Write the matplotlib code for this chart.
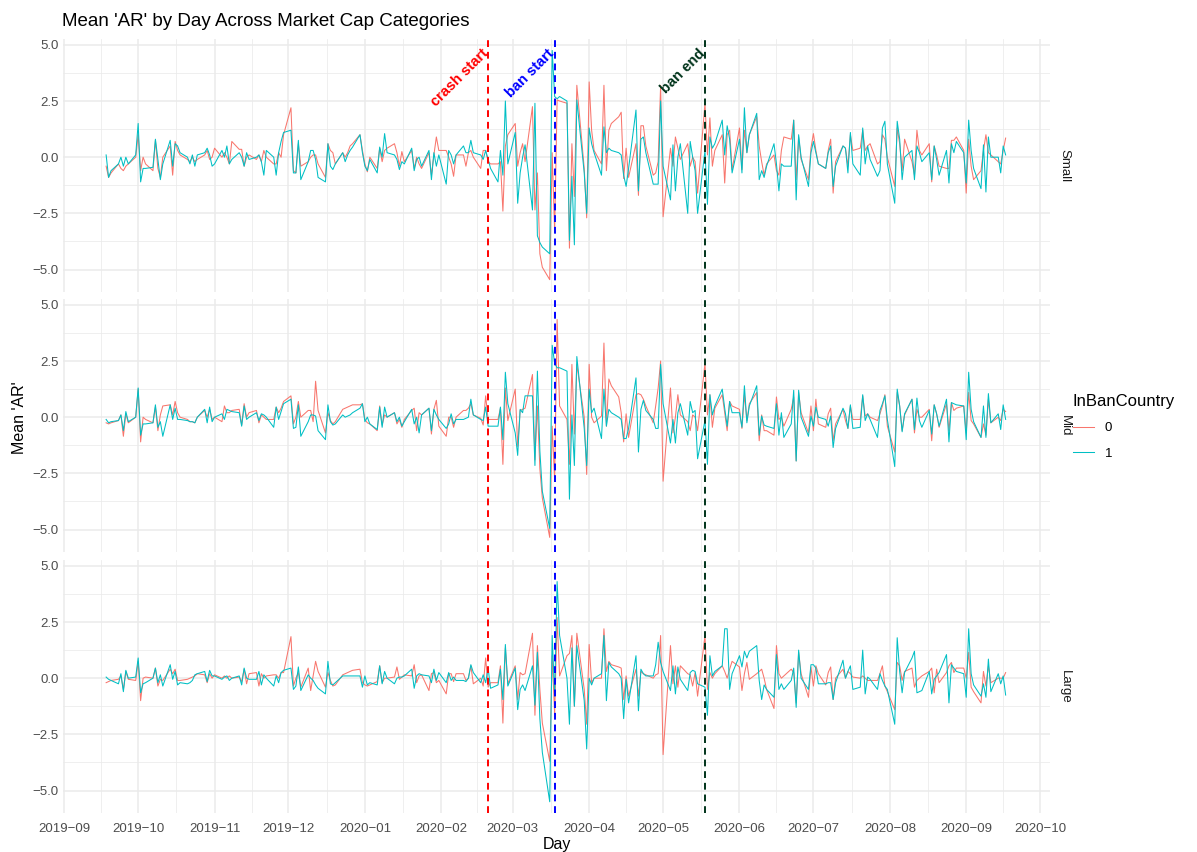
import numpy as np
import pandas as pd
import matplotlib
matplotlib.use("Agg")
import matplotlib.pyplot as plt
from matplotlib.lines import Line2D

plt.rcParams['font.family'] = ['Liberation Sans', 'DejaVu Sans']

# trading days shown on the x axis
days = pd.bdate_range("2019-09-18", "2020-09-17")

# mean AR, Small caps (0 = not in ban country, 1 = in ban country), one row per month
small_0 = [-0.4, -0.9, -0.7, -0.3, -0.5, -0.6, -0.4, -0.3, 0.0,
           1.0, -0.6, 0.0, -0.3, -0.6, 0.75, -0.5, -0.9, 0.0, 0.5, -0.8, 0.7, 0.3, 0.1, -0.1, -0.2, 0.0, -0.2, -0.1, 0.1, 0.3, -0.1, 0.0,
           0.4, 0.0, 0.2, 0.0, -0.3, 0.7, 0.35, 0.35, -0.4, 0.0, 0.1, -0.1, 0.1, -0.2, 0.3, 0.0, -0.3, -0.3, 0.2, 0.0, 1.0,
           2.2, -0.6, -0.7, 0.6, -0.4, -0.2, 0.0, 0.1, 0.1, -0.3, -0.9, 0.6, 0.3, 0.2, -0.3, 0.2, 0.0, 0.2, 0.5, 0.6, 1.0, 0.3,
           -0.3, -0.65, 0.0, -0.5, 0.4, -0.2, 0.3, 0.4, 0.6, 0.2, -0.4, 0.25, -0.2, 0.3, -0.5, 0.0, -0.3, -0.5, 0.2, -0.8, 0.1, 0.9, 0.3,
           0.3, 0.0, -0.3, -0.85, 0.1, 0.1, -0.4, 0.2, 0.3, 0.0, -0.5, 0.3, 0.3, -0.2, -0.3, -0.3, -0.2, -2.4, 0.5, 1.0,
           1.5, -0.4, 0.2, 0.6, -0.2, 2.25, -2.35, -0.7, -4.3, -4.9, -5.45, 0.2, -3.3, 2.55, 2.5, 2.4, -4.05, 0.6, -1.75, 3.2, -0.5, -2.7,
           3.35, 1.2, 0.3, -0.3, 3.2, -0.6, 1.2, 1.5, 1.8, 2.0, -0.95, 0.4, -0.9, 0.6, -1.7, 1.4, 1.4, 0.5, -0.8, -0.7, -0.2, 3.2,
           -2.65, 0.4, -0.4, 0.9, 0.4, -0.1, 0.6, -0.4, 0.0, -0.2, -1.6, 2.4, 0.1, 1.75, -0.4, 0.3, 1.0, -1.15, 1.0, 1.2, -0.55,
           1.3, -0.55, 1.2, 0.2, 1.0, 1.8, 0.5, -0.2, -0.8, -0.3, 0.1, -0.6, -0.8, 0.3, 0.9, 0.8, 1.65, -1.0, 0.9, -0.1, -1.0, 0.4,
           1.05, 0.3, -0.3, -0.5, 0.3, 0.8, -1.6, -0.2, 0.5, 0.4, -0.4, 1.0, 0.3, 0.4, 1.2, 0.3, 0.5, 0.6, -0.3, -0.2, 1.0, 0.8, 0.0,
           -1.3, 1.3, 0.6, -0.6, 0.8, -0.2, -0.8, 1.2, 0.3, 0.1, 0.6, -1.1, 0.5, 0.1, -0.4, -0.5, -0.5, 0.75, 0.75, 0.9, 0.3,
           -1.6, 0.8, -0.4, -1.0, -0.6, 0.3, 1.0, 0.2, 0.1, -0.2, -0.3, 0.3, 0.85]
small_1 = [0.1, -0.9, -0.6, -0.3, 0.0, -0.4, 0.0, -0.3, 0.1,
           1.5, -1.1, -0.5, -0.5, -0.45, 0.8, -0.1, -1.0, -0.3, 0.75, -0.4, 0.6, 0.5, 0.2, 0.0, -0.3, 0.1, -0.4, 0.1, 0.2, 0.4, 0.1, -0.4,
           -0.3, 0.3, 0.0, 0.5, -0.3, -0.1, 0.2, 0.0, -0.4, 0.2, -0.1, 0.0, 0.1, -0.2, -0.8, 0.3, 0.0, -0.8, 0.2, 0.7, 1.1,
           1.2, -0.7, -0.7, 0.75, -1.0, -0.2, 0.3, 0.3, -0.1, -0.9, -1.1, 0.6, -0.4, -0.55, -0.3, 0.2, -0.2, 0.1, 0.3, 0.45, 1.0, 0.2,
           -0.4, -0.6, -0.1, -0.7, 0.45, 0.0, 1.05, 0.2, 0.1, -0.1, -0.55, -0.2, -0.3, 0.4, -0.6, -0.1, 0.0, -0.4, 0.3, -1.0, 0.2, -0.4, 0.1,
           -1.2, 0.3, 0.1, -0.3, 0.1, 0.5, 0.2, 0.2, 0.75, 0.2, 0.1, -0.1, 0.3, -0.1, -0.5, -1.1, 0.3, -0.8, 2.5, -0.3,
           1.1, -2.05, -0.7, 0.0, 0.55, -2.35, 2.4, -3.5, -3.8, -4.0, -4.3, 4.75, 2.7, 2.6, 2.7, 2.5, -3.7, -0.85, -3.9, 2.55, -0.7, -2.5,
           1.3, 0.6, 0.2, -0.8, 1.35, 0.2, 0.4, 0.3, 0.2, 0.1, -0.8, -1.3, -0.5, 2.1, -1.5, 0.8, 0.9, 0.2, -1.2, -1.2, -1.2, 2.5,
           -0.4, -1.9, 0.55, -1.5, 0.0, 0.6, -2.5, 0.7, 0.0, -0.6, -2.5, 0.3, -2.1, 0.9, 0.4, 0.6, 1.65, 0.1, 1.4, 0.8, -0.7,
           0.8, -0.7, 2.2, 0.2, 1.0, 1.95, -1.0, -0.6, -0.9, -0.4, 0.6, -0.3, -1.5, -0.3, -0.4, -0.4, 1.65, -1.9, 1.0, 0.0, -1.3, 0.2,
           0.7, 0.2, -0.3, -0.5, 0.2, 0.5, -1.3, -0.4, 0.5, 0.4, -0.7, 1.1, -0.3, -0.8, 1.3, -0.3, 0.5, -0.1, -0.85, -0.6, 1.3, 1.6, -0.3,
           -2.05, 1.6, 0.8, -1.0, 0.0, 0.3, -1.0, 0.5, 0.2, -0.2, 0.2, -1.0, 0.5, -0.1, -0.8, 0.3, -1.15, 0.6, 0.2, 0.7, 0.2,
           -1.15, 1.65, 0.3, -0.5, -1.4, 0.55, -1.55, 0.9, 0.0, 0.0, -0.7, 0.5, 0.1]

# Mid caps
mid_0 = [-0.25, -0.3, -0.25, -0.15, 0.1, -0.85, 0.15, -0.25, 0.0,
         1.25, -1.1, 0.0, -0.1, -0.25, 0.45, -0.6, 0.1, 0.5, 0.55, 0.1, 0.7, 0.2, 0.0, -0.1, -0.2, -0.2, -0.25, 0.0, 0.3, 0.0, 0.35, -0.1,
         0.0, -0.2, 0.5, 0.2, 0.2, 0.3, 0.35, -0.35, 0.6, 0.0, 0.2, 0.3, -0.25, 0.1, 0.0, -0.1, -0.1, 0.45, 0.2, 0.4, 0.7,
         0.95, -0.3, 0.0, 0.7, 0.0, 0.3, 0.3, -0.2, 1.6, 0.3, -0.7, 0.2, -0.15, -0.3, -0.2, 0.35, 0.4, 0.45, 0.5, 0.55, 0.55, 0.6,
         -0.1, -0.25, -0.3, -0.6, 0.5, -0.35, 0.1, 0.0, 0.2, -0.3, -0.1, -0.45, -0.1, 0.3, 0.4, -0.6, 0.2, 0.1, 0.4, -0.75, 0.35, 0.75, -0.4,
         -0.85, 0.0, 0.0, -0.45, 0.0, 0.3, 0.3, 0.4, 0.6, 0.1, -0.05, -0.35, 0.95, -0.1, -0.1, -0.1, 0.4, -2.1, 1.3, -0.15,
         1.25, -1.3, 0.3, 0.35, 0.4, 1.9, -1.9, 0.5, -2.3, -3.6, -5.35, -0.4, -2.8, 4.35, 0.5, -0.1, -2.1, 2.35, -0.75, 2.35, 0.0, -2.55,
         2.35, 0.0, -0.25, 0.05, 3.3, -0.4, 1.7, 1.4, 0.9, 0.2, -1.1, 0.15, -0.9, 1.0, 1.05, 1.0, 0.8, 0.5, -0.25, 0.5, 1.3, 2.5,
         -2.85, 1.3, -0.7, 0.0, 1.0, 0.1, -0.2, -0.6, 0.1, 0.0, -0.6, 2.4, 0.1, 1.0, -0.45, 0.4, 1.0, 0.2, -0.6, 0.7, 0.5,
         0.35, -0.5, 1.0, -0.15, 0.6, 1.1, -1.05, 0.1, -0.6, -0.6, -0.8, 0.9, -0.1, 0.0, -0.4, 0.35, 0.9, -1.95, 1.1, 0.2, -0.7, 0.5,
         -0.6, 0.8, -0.3, -0.45, 0.15, 0.4, -1.05, -0.3, 0.35, -0.15, -0.5, 0.5, -0.1, -0.1, 0.95, 0.05, 0.15, 0.0, -0.15, 0.15, 0.5, 1.0, -0.4,
         -1.55, 1.1, 0.5, -0.6, 0.1, 0.8, -0.7, 0.35, 0.0, 0.0, 0.35, -1.05, 0.55, 0.15, -0.45, 0.6, -0.6, 0.65, 0.3, 0.4, 0.5,
         -0.7, 1.1, -0.15, -0.3, -0.9, -0.3, -0.8, 0.8, -0.25, 0.0, -0.15, 0.35, 0.25]
mid_1 = [-0.1, -0.25, -0.2, -0.15, 0.1, -0.6, 0.25, -0.2, 0.0,
         1.3, -0.8, -0.3, -0.3, -0.25, 0.55, -0.45, -0.2, -0.85, 0.55, -0.1, 0.4, -0.1, -0.1, -0.15, -0.2, -0.2, -0.25, 0.0, 0.35, -0.25, 0.45, -0.2,
         0.0, 0.15, -0.1, 0.35, 0.3, 0.25, 0.2, -0.4, 0.5, -0.1, 0.0, 0.2, -0.15, 0.15, 0.1, 0.0, -0.45, 0.45, -0.1, 0.25, 0.6,
         0.8, -0.5, -0.45, 0.55, -0.85, -0.2, 0.1, 0.1, 0.05, -0.6, -1.0, 0.55, -0.2, -0.35, -0.3, 0.1, 0.0, 0.05, 0.1, 0.2, 0.4, 0.6,
         -0.2, 0.0, -0.3, -0.55, 0.45, -0.45, 0.45, 0.0, 0.2, -0.2, 0.0, -0.4, -0.2, 0.35, -0.3, 0.0, -0.7, 0.1, 0.4, -0.6, 0.35, 0.1, -0.1,
         -0.5, -0.3, 0.15, -0.3, -0.1, -0.1, -0.05, 0.0, 0.8, 0.1, -0.1, -0.15, 0.45, -0.4, -0.4, -0.4, 0.45, -1.0, 2.0, 0.6,
         -0.7, -1.7, 0.35, 0.2, 0.95, 0.95, -2.15, 2.05, -1.5, -3.3, -4.95, 3.2, 2.4, 2.2, 2.2, 2.05, -3.65, 0.1, -2.15, 2.7, -0.5, -2.15,
         1.25, 0.2, 0.4, -0.95, 1.25, -0.4, 0.35, 0.2, 0.0, -0.1, -0.95, -0.95, -0.5, 1.75, -1.55, 0.35, 0.75, 0.3, -0.1, -0.5, -0.5, 2.35,
         0.6, -1.15, -0.1, -1.15, 0.2, 0.6, -0.8, 0.7, 0.2, 0.3, -1.85, -0.15, -2.1, 1.0, 0.1, 0.5, 1.25, 0.4, -0.4, 0.7, 0.2,
         0.2, -0.45, 1.4, -0.25, 0.5, 1.4, -0.8, 0.05, -0.35, -0.4, -0.5, 0.6, -0.8, 0.2, -0.9, -0.3, 1.2, -1.95, 1.2, 0.0, -0.85, 0.05,
         -0.4, 0.45, 0.0, -0.1, -0.4, 0.05, -1.35, -0.5, 0.4, 0.15, -0.5, 0.55, -0.5, -0.45, 1.0, -0.15, 0.15, -0.1, -0.9, 0.3, 0.6, 0.95, -0.1,
         -2.2, 1.25, 0.5, -0.65, 0.15, 0.8, -0.55, 0.85, -0.15, -0.45, 0.3, -0.75, 0.55, 0.15, -0.4, 0.8, -1.1, 0.65, 0.6, 0.55, 0.5,
         -1.0, 2.0, 0.35, -0.2, -0.9, 0.5, -0.9, 1.05, -0.25, 0.15, -0.55, 0.55, -0.1]

# Large caps
large_0 = [-0.2, -0.15, -0.1, -0.05, 0.1, -0.5, 0.3, -0.05, -0.1,
           0.75, -1.0, 0.0, 0.05, 0.0, 0.45, -0.35, -0.05, -0.1, 0.4, 0.2, 0.4, -0.1, -0.1, -0.05, 0.0, 0.05, 0.1, 0.2, 0.15, -0.2, 0.2, 0.0,
           0.15, 0.0, 0.1, 0.0, 0.1, 0.0, 0.05, -0.15, 0.4, -0.25, 0.2, 0.25, -0.35, 0.2, 0.0, 0.1, 0.15, 0.15, 0.0, 0.25, 0.25,
           1.85, -0.35, 0.0, 0.25, -0.4, 0.45, -0.55, 0.1, 0.75, 0.3, -0.4, 0.25, -0.1, -0.35, -0.3, 0.15, 0.2, 0.25, 0.3, 0.35, 0.4, -0.2,
           -0.3, -0.35, -0.3, -0.15, 0.55, -0.2, 0.0, 0.0, 0.05, 0.5, -0.05, 0.05, 0.15, 0.1, 0.6, -0.2, 0.1, 0.15, -0.55, 0.2, 0.25, -0.2, -0.1,
           -0.7, 0.2, 0.2, -0.15, 0.2, 0.2, -0.1, 0.0, 0.55, -0.25, 0.0, -0.35, 0.9, -0.4, -0.2, -0.2, 0.55, -2.0, 1.35, -0.25,
           0.55, -0.95, 0.25, 0.15, 0.2, 2.0, -1.65, 1.45, -0.5, -2.0, -3.7, 1.0, -1.6, 2.7, 0.1, 1.0, 1.1, 1.9, -1.25, 2.0, -0.5, -2.05,
           1.5, -0.2, 0.0, 0.0, 2.2, 0.3, 0.75, 0.6, 0.5, 0.45, -0.95, 0.1, -0.8, 0.4, -0.8, 0.3, 0.2, 0.15, 0.0, 0.15, 0.2, 1.9,
           -3.4, 1.45, -0.25, 0.55, -0.4, 0.55, 0.2, 0.15, -0.35, 0.25, -0.8, 1.9, -0.5, 0.25, 0.0, 0.2, 0.55, 0.3, 0.0, 0.4, 0.75,
           0.5, -0.55, 0.2, 0.7, -0.05, 0.2, 0.3, 0.4, 0.0, -0.5, -1.35, 1.45, 0.2, 0.0, 0.1, 0.4, 0.25, -1.1, 1.15, 0.2, -0.85, 0.5,
           -0.35, 0.55, 0.2, -0.3, 0.25, 0.5, -0.95, 0.0, 0.4, 0.0, 0.3, 0.2, 0.05, 0.0, 0.1, 0.0, -0.1, -0.1, -0.1, 0.2, 0.55, -0.35, -0.6,
           -1.4, 0.7, 0.55, -0.1, 0.3, 0.45, -0.4, -0.1, 0.0, 0.1, 0.3, 0.45, -0.65, 0.4, -0.2, 0.25, 0.55, 0.7, 0.25, 0.45, 0.45,
           0.0, 1.15, -0.4, -0.6, -1.1, 0.3, -0.35, 0.55, -0.2, 0.0, 0.0, 0.0, 0.25]
large_1 = [0.05, -0.05, -0.1, -0.25, 0.2, -0.6, 0.35, 0.0, 0.05,
           0.9, -0.65, -0.25, -0.2, 0.0, 0.45, -0.2, 0.15, -0.35, 0.6, -0.05, 0.3, -0.3, -0.2, -0.25, -0.2, -0.1, 0.15, 0.2, 0.3, -0.15, 0.35, 0.1,
           0.1, -0.05, 0.05, 0.1, -0.1, 0.0, 0.1, -0.3, 0.45, 0.0, -0.05, -0.05, 0.3, -0.3, 0.15, 0.0, -0.35, 0.1, -0.2, 0.25, 0.35,
           0.45, -0.5, -0.35, 0.5, -0.55, 0.15, 0.0, -0.1, -0.3, -0.45, -0.7, 0.75, -0.25, -0.3, -0.2, 0.1, 0.1, 0.1, 0.1, 0.1, 0.1, -0.4,
           0.1, -0.3, -0.2, -0.3, 0.55, -0.25, 0.3, 0.0, -0.25, 0.0, 0.05, 0.05, 0.1, 0.4, -0.45, 0.1, 0.2, 0.15, 0.1, -0.2, 0.4, -0.1, 0.25,
           -0.2, 0.25, -0.1, 0.05, -0.1, -0.1, -0.15, 0.0, 0.6, 0.25, -0.2, 0.15, -0.2, 0.45, -0.45, -0.3, 0.4, -0.95, 1.5, -0.35,
           0.45, -1.4, -0.5, -0.3, -0.55, 0.55, -1.2, 1.15, -1.8, -3.3, -5.5, 1.9, -0.8, 4.3, 1.9, 0.0, -2.05, 1.35, -1.25, 1.45, -1.0, -3.15,
           0.0, -0.3, 0.0, 0.2, 1.9, -1.0, 0.7, 0.5, 0.2, 0.0, -1.8, -0.05, -1.1, 1.0, -1.45, 0.4, 0.2, 0.1, 0.1, 0.6, 1.6, 0.7,
           0.3, -0.55, 0.55, -0.7, 0.5, -0.05, -0.55, 0.25, 0.35, 0.3, -0.25, -0.4, -1.65, 1.0, 0.1, 0.3, 0.55, 2.2, 2.2, -0.5, 0.2,
           1.0, 0.5, 1.2, 0.9, 1.2, 1.45, -0.1, -0.95, -0.3, -0.5, -0.85, 1.05, -0.5, -0.25, -0.5, -0.1, 0.45, -1.3, 1.25, 0.0, -0.5, 0.6,
           0.6, 0.45, -0.25, -0.25, -0.2, -0.2, -0.95, -0.2, 0.8, 0.0, 0.3, 0.55, -0.5, -0.4, 1.25, -0.7, 0.05, -0.05, -0.5, 0.2, -0.1, -0.35, -0.5,
           -2.05, 1.8, 0.3, -0.65, 0.25, 0.9, 1.2, -0.65, -0.6, -0.55, 0.3, -0.7, -0.05, 0.1, 0.25, 1.05, -1.1, 0.6, 0.45, 0.3, 0.2,
           -0.85, 2.2, 0.2, -0.3, -0.8, -0.25, -0.85, 0.85, -0.6, 0.2, -0.25, 0.1, -0.75]

panels = ["Small", "Mid", "Large"]
series = {"Small": (small_0, small_1), "Mid": (mid_0, mid_1), "Large": (large_0, large_1)}

event_names = ["crash start", "ban start", "ban end"]
event_days = pd.to_datetime(["2020-02-20", "2020-03-18", "2020-05-18"])
event_colors = ["#FF0000", "#0000FF", "#00331A"]

col0 = "#F8766D"
col1 = "#00BFC4"
grid_col = "#EBEBEB"
txt_col = "#4D4D4D"

W, H = 1197, 852
fig = plt.figure(figsize=(W / 100, H / 100), dpi=100)

# panel boxes in pixels (top, bottom)
boxes = [(39, 292), (299, 552), (560, 813)]
left_px, right_px = 63, 1050

major_x = pd.date_range("2019-09-01", "2020-10-01", freq="MS")
minor_x = major_x[:-1] + (major_x[1:] - major_x[:-1]) / 2
x_lo = pd.Timestamp("2019-08-31 12:00")
x_hi = pd.Timestamp("2020-10-05")

for i, name in enumerate(panels):
    top, bot = boxes[i]
    ax = fig.add_axes([left_px / W, 1 - bot / H, (right_px - left_px) / W, (bot - top) / H])
    for s in ax.spines.values():
        s.set_visible(False)
    ax.set_xlim(x_lo, x_hi)
    ax.set_ylim(-6.0, 5.26)

    ax.set_xticks(major_x)
    ax.set_xticks(minor_x, minor=True)
    ax.set_yticks([-5, -2.5, 0, 2.5, 5])
    ax.set_yticks([-3.75, -1.25, 1.25, 3.75], minor=True)
    ax.set_yticklabels(["\u22125.0", "\u22122.5", "0.0", "2.5", "5.0"])
    if i == 2:
        ax.set_xticklabels([d.strftime("%Y\u2212%m") for d in major_x])
    else:
        ax.set_xticklabels([])
    ax.tick_params(axis="y", which="both", length=0, labelsize=9.5, labelcolor=txt_col, pad=3)
    ax.tick_params(axis="x", which="both", length=0, labelsize=9.5, labelcolor=txt_col, pad=7)
    ax.grid(which="major", color=grid_col, lw=1.1)
    ax.grid(which="minor", color=grid_col, lw=0.55)
    ax.set_axisbelow(True)

    v0, v1 = series[name]
    ax.plot(days, v0, color=col0, lw=0.75)
    ax.plot(days, v1, color=col1, lw=0.75)

    for d, c in zip(event_days, event_colors):
        ax.axvline(d, color=c, lw=1.4, ls=(0, (3.5, 2.5)))

    if i == 0:
        for d, lab, c in zip(event_days, event_names, event_colors):
            ax.text(d - pd.Timedelta(days=1.0), 4.7, lab, rotation=45, rotation_mode="anchor",
                    ha="right", va="center", color=c, fontsize=10.5, fontweight="bold")

    ax.text(1.009, 0.5, name, transform=ax.transAxes, rotation=-90, ha="left", va="center",
            fontsize=9.5, color="#1A1A1A")

fig.text(62 / W, 1 - 22 / H, "Mean 'AR' by Day Across Market Cap Categories", ha="left", va="center",
         fontsize=13.5, color="black")
fig.text((left_px + right_px) / 2 / W, 1 - 845 / H, "Day", ha="center", va="center", fontsize=11.5)
fig.text(20 / W, 1 - 418 / H, "Mean 'AR'", ha="center", va="center", rotation=90, fontsize=11.5)

handles = [Line2D([], [], color=col0, lw=0.75), Line2D([], [], color=col1, lw=0.75)]
leg = fig.legend(handles, ["0", "1"], title="InBanCountry", loc="upper left",
                 bbox_to_anchor=(1073 / W, 1 - 394 / H), frameon=False, fontsize=9.5,
                 title_fontsize=12, handlelength=1.6, labelspacing=1.0, borderpad=0,
                 borderaxespad=0, alignment="left")

fig.savefig("out.png", dpi=100)
